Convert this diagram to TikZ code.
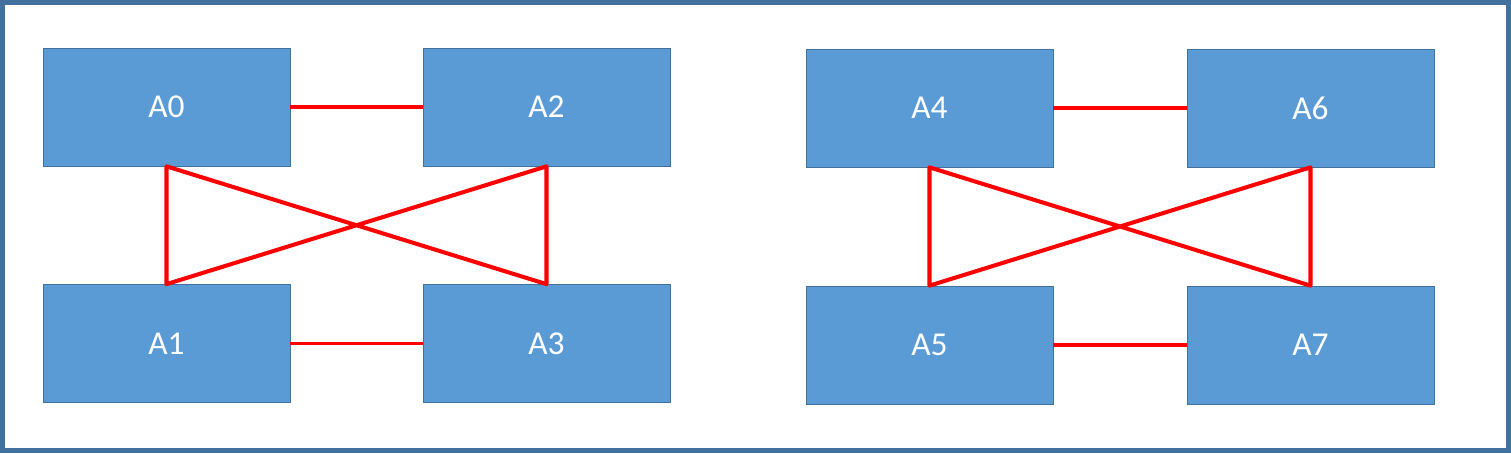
\documentclass[tikz,border=0pt]{standalone}
\usepackage{fontspec}
\setmainfont{Carlito}
\definecolor{boxblue}{HTML}{5B9BD5}
\definecolor{edgeblue}{HTML}{41719C}
\begin{document}
\begin{tikzpicture}[
	unitbox/.style={rectangle, draw=edgeblue, fill=boxblue, thin, minimum width=4.94cm, minimum height=2.36cm, text=white, font=\fontsize{19}{22}\selectfont},
	link/.style={red, line width=2.3pt},
	hlink/.style={red, line width=1.8pt}
	]
	\useasboundingbox (0,0) rectangle (30.22,9.06);
	\draw[edgeblue, line width=0.1cm] (0.05,0.05) rectangle (30.17,9.01);
	%Nodes
	\node[unitbox](A0) at (3.33,6.92) {A0};
	\node[unitbox](A2) at (10.93,6.92) {A2};
	\node[unitbox](A1) at (3.33,2.19) {A1};
	\node[unitbox](A3) at (10.93,2.19) {A3};
	\node[unitbox](A4) at (18.59,6.90) {A4};
	\node[unitbox](A6) at (26.21,6.90) {A6};
	\node[unitbox](A5) at (18.59,2.16) {A5};
	\node[unitbox](A7) at (26.21,2.16) {A7};
	%Lines
	\foreach \ta/\tb/\ba/\bb in {A0/A2/A1/A3, A4/A6/A5/A7}{
		\draw[hlink] (\ta) -- (\tb);
		\draw[hlink] (\ba) -- (\bb);
		\draw[link, line join=round] (\ta.south) -- (\ba.north) -- (\tb.south) -- (\bb.north) -- cycle;
	}
\end{tikzpicture}
\end{document}
